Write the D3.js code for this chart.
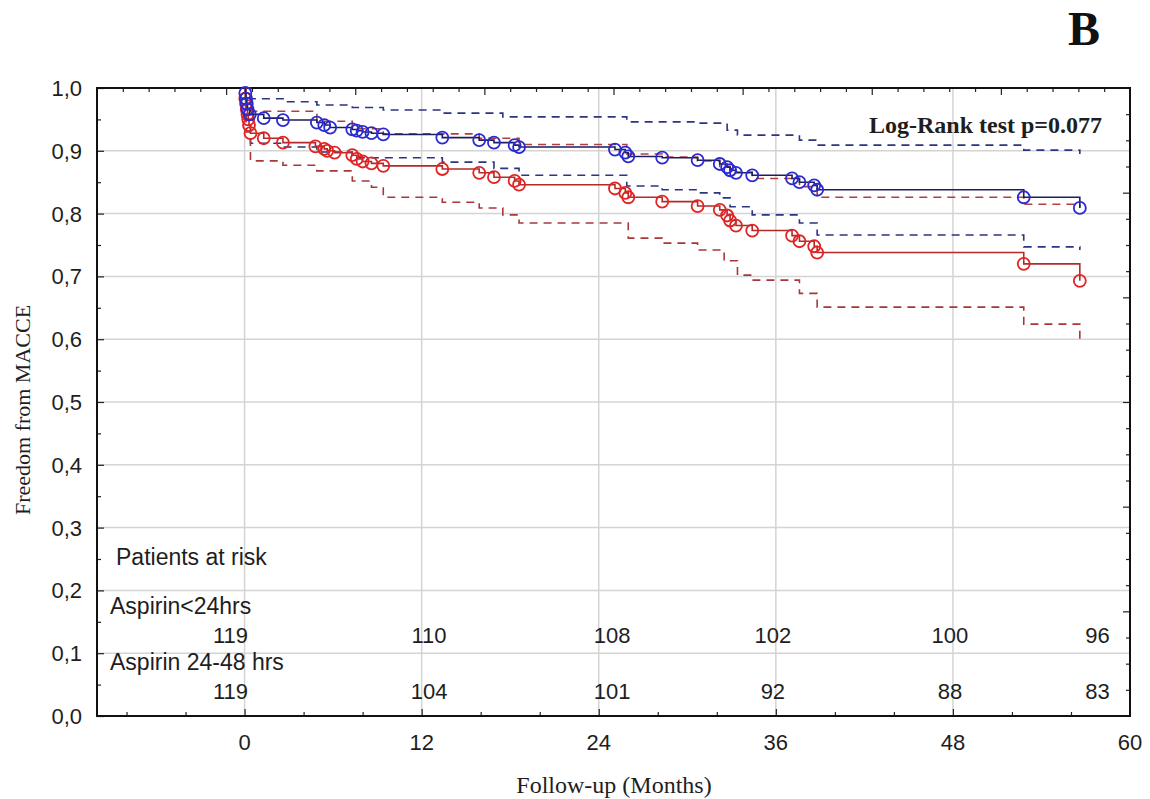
<!DOCTYPE html>
<html><head><meta charset="utf-8">
<script src="https://cdn.jsdelivr.net/npm/d3@7"></script>
<style>body{margin:0;background:#fff}svg{display:block}</style>
</head><body>
<svg id="c" width="1150" height="799"></svg>
<script>
// ---- data ----
const xTicks = [0, 12, 24, 36, 48, 60];
const yTicks = [0, 0.1, 0.2, 0.3, 0.4, 0.5, 0.6, 0.7, 0.8, 0.9, 1.0];

// Aspirin<24hrs (blue) KM events
const blueTimes = [0, 0.05, 0.1, 0.15, 0.2, 0.35, 1.3, 2.6, 4.9, 5.4, 5.8, 7.3, 7.6, 8.0, 8.6, 9.4, 13.4, 15.9, 16.9, 18.3, 18.6, 25.1, 25.8, 26.0, 28.3, 30.7, 32.2, 32.7, 32.9, 33.3, 34.4, 37.1, 37.6, 38.6, 38.8, 52.8, 56.6];
const blueSurv  = [1.0, 0.992, 0.983, 0.975, 0.966, 0.958, 0.952, 0.949, 0.945, 0.941, 0.937, 0.934, 0.932, 0.930, 0.928, 0.926, 0.921, 0.917, 0.913, 0.909, 0.906, 0.902, 0.897, 0.891, 0.889, 0.885, 0.879, 0.874, 0.869, 0.865, 0.861, 0.856, 0.850, 0.845, 0.838, 0.826, 0.809];

// Aspirin 24-48 hrs (red) KM events
const redTimes = [0, 0.05, 0.1, 0.15, 0.2, 0.25, 0.3, 0.4, 1.3, 2.6, 4.8, 5.4, 5.6, 6.1, 7.3, 7.6, 8.0, 8.6, 9.4, 13.4, 15.9, 16.9, 18.3, 18.6, 25.1, 25.8, 26.0, 28.3, 30.7, 32.2, 32.7, 32.9, 33.3, 34.4, 37.1, 37.6, 38.6, 38.8, 52.8, 56.6];
const redSurv  = [1.0, 0.983, 0.975, 0.966, 0.958, 0.950, 0.941, 0.928, 0.920, 0.913, 0.907, 0.903, 0.900, 0.897, 0.893, 0.887, 0.883, 0.880, 0.876, 0.871, 0.865, 0.858, 0.852, 0.846, 0.840, 0.833, 0.826, 0.819, 0.812, 0.806, 0.797, 0.789, 0.781, 0.773, 0.765, 0.756, 0.748, 0.738, 0.720, 0.693];

// Confidence limits (dashed)
const blueUpperTimes = [0, 0.4, 2.8, 4.9, 7.3, 9.4, 13.4, 17.5, 25.9, 30.7, 32.7, 33.4, 37.6, 38.8, 52.8, 56.6];
const blueUpper      = [1.0, 0.983, 0.978, 0.973, 0.969, 0.965, 0.960, 0.954, 0.946, 0.944, 0.933, 0.925, 0.917, 0.909, 0.901, 0.895];
const blueLowerTimes = [0, 0.1, 0.4, 2.6, 4.9, 7.3, 13.4, 16.9, 18.6, 25.9, 28.3, 30.7, 32.2, 32.9, 34.4, 37.6, 38.8, 52.8, 56.6];
const blueLower      = [1.0, 0.95, 0.912, 0.906, 0.898, 0.889, 0.882, 0.872, 0.861, 0.844, 0.838, 0.833, 0.825, 0.811, 0.798, 0.785, 0.766, 0.747, 0.742];
const redUpperTimes  = [0, 0.1, 0.4, 4.9, 7.3, 9.4, 15.9, 18.6, 25.9, 28.3, 30.7, 32.2, 32.9, 34.4, 37.6, 38.8, 52.8, 56.6];
const redUpper       = [1.0, 0.98, 0.963, 0.947, 0.935, 0.927, 0.920, 0.910, 0.895, 0.890, 0.884, 0.875, 0.866, 0.856, 0.843, 0.826, 0.815, 0.810];
const redLowerTimes  = [0, 0.1, 0.4, 2.6, 4.9, 7.3, 8.6, 9.4, 13.4, 15.9, 17.5, 18.6, 26.0, 28.3, 30.7, 32.5, 33.4, 34.4, 37.6, 38.8, 52.8, 56.6];
const redLower       = [1.0, 0.93, 0.884, 0.877, 0.868, 0.852, 0.842, 0.826, 0.818, 0.809, 0.798, 0.785, 0.761, 0.753, 0.742, 0.725, 0.702, 0.694, 0.673, 0.651, 0.624, 0.591];

// Patients at risk
const atRiskTimes = [-0.95, 12.5, 24.9, 35.8, 47.8, 57.8];
const atRiskBlue  = [119, 110, 108, 102, 100, 96];
const atRiskRed   = [119, 104, 101, 92, 88, 83];

// ---- drawing ----
const svg = d3.select('#c');
const L = 97, R = 1130, T = 88, B = 716;
const x = d3.scaleLinear().domain([-10, 60]).range([L, R]);
const y = d3.scaleLinear().domain([0, 1]).range([B, T]);

const sans = "'Liberation Sans', Arial, sans-serif";
const serif = "'Liberation Serif', 'Times New Roman', serif";
const ink = '#1e1e1e';

// grid
const g = svg.append('g');
g.selectAll('.gx').data(xTicks.filter(d => d < 60)).join('line')
  .attr('x1', d => x(d)).attr('x2', d => x(d)).attr('y1', T).attr('y2', B)
  .attr('stroke', '#d4d4d4').attr('stroke-width', 1.5);
g.selectAll('.gy').data(yTicks.filter(d => d > 0 && d < 1)).join('line')
  .attr('x1', L).attr('x2', R).attr('y1', d => y(d)).attr('y2', d => y(d))
  .attr('stroke', '#d4d4d4').attr('stroke-width', 1.5);

// axes (ticks inside)
const xMinor = d3.range(-8, 60, 4).filter(d => !xTicks.includes(d));
const yMinor = d3.range(0.05, 1, 0.1);
svg.append('g').attr('transform', `translate(0,${B})`)
  .call(d3.axisBottom(x).tickValues(xTicks.filter(d => d < 60)).tickSize(-7).tickFormat(''));
svg.append('g').attr('transform', `translate(0,${B})`)
  .call(d3.axisBottom(x).tickValues(xMinor).tickSize(-4).tickFormat(''));
svg.append('g').attr('transform', `translate(${L},0)`)
  .call(d3.axisLeft(y).tickValues(yTicks).tickSize(-7).tickFormat(''));
svg.append('g').attr('transform', `translate(${L},0)`)
  .call(d3.axisLeft(y).tickValues(yMinor).tickSize(-4).tickFormat(''));
// top & right secondary axes (unlabelled)
const xTop = d3.scaleLinear().domain([0, 8]).range([L, R]);
const yRight = d3.scaleLinear().domain([0, 6]).range([B, T]);
svg.append('g').attr('transform', `translate(0,${T})`)
  .call(d3.axisTop(xTop).tickValues(d3.range(1, 8)).tickSize(-7).tickFormat(''));
svg.append('g').attr('transform', `translate(0,${T})`)
  .call(d3.axisTop(xTop).tickValues(d3.range(0.2, 8, 0.2).filter(v => Math.abs(v - Math.round(v)) > 0.01)).tickSize(-4).tickFormat(''));
svg.append('g').attr('transform', `translate(${R},0)`)
  .call(d3.axisRight(yRight).tickValues(d3.range(1, 6)).tickSize(-7).tickFormat(''));
svg.append('g').attr('transform', `translate(${R},0)`)
  .call(d3.axisRight(yRight).tickValues(d3.range(0.25, 6, 0.25).filter(v => Math.abs(v - Math.round(v)) > 0.01)).tickSize(-4).tickFormat(''));
svg.selectAll('.domain').remove();
svg.selectAll('.tick line').attr('stroke', '#222').attr('stroke-width', 1.2);

// frame
svg.append('rect').attr('x', L).attr('y', T).attr('width', R - L).attr('height', B - T)
  .attr('fill', 'none').attr('stroke', '#111').attr('stroke-width', 2);

// tick labels
svg.selectAll('.xl').data(xTicks).join('text')
  .attr('x', d => x(d)).attr('y', 750).attr('text-anchor', 'middle')
  .attr('font-family', sans).attr('font-size', 22).attr('fill', ink)
  .text(d => d);
svg.selectAll('.yl').data(yTicks).join('text')
  .attr('x', 82).attr('y', d => y(d) + 8).attr('text-anchor', 'end')
  .attr('font-family', sans).attr('font-size', 22).attr('fill', ink)
  .text(d => d3.format('.1f')(d).replace('.', ','));

// axis titles
svg.append('text').attr('x', 614).attr('y', 793).attr('text-anchor', 'middle')
  .attr('font-family', serif).attr('font-size', 24).attr('fill', ink).text('Follow-up (Months)');
svg.append('text').attr('transform', 'translate(30,410) rotate(-90)').attr('text-anchor', 'middle')
  .attr('font-family', serif).attr('font-size', 22).attr('fill', ink).text('Freedom from MACCE');

// title letter & log-rank
svg.append('text').attr('x', 1084).attr('y', 45).attr('text-anchor', 'middle')
  .attr('font-family', serif).attr('font-weight', 'bold').attr('font-size', 48).attr('fill', '#111').text('B');
svg.append('text').attr('x', 1102).attr('y', 133).attr('text-anchor', 'end')
  .attr('font-family', serif).attr('font-weight', 'bold').attr('font-size', 24).attr('fill', ink).text('Log-Rank test p=0.077');

// curves
const step = (ts, vs) => d3.line().curve(d3.curveStepAfter).x((d, i) => x(ts[i])).y((d, i) => y(vs[i]))(vs);
const plot = svg.append('g');
function band(ts, vs, color) {
  plot.append('path').attr('d', step(ts, vs)).attr('fill', 'none')
    .attr('stroke', color).attr('stroke-width', 1.6).attr('stroke-dasharray', '8,6');
}
band(blueUpperTimes, blueUpper, '#2b3580');
band(blueLowerTimes, blueLower, '#2b3580');
band(redUpperTimes, redUpper, '#b04040');
band(redLowerTimes, redLower, '#a83838');

function km(ts, vs, lineColor, dotColor) {
  plot.append('path').attr('d', step(ts, vs)).attr('fill', 'none')
    .attr('stroke', lineColor).attr('stroke-width', 1.6);
  plot.append('g').selectAll('circle').data(vs.slice(1)).join('circle')
    .attr('cx', (d, i) => x(ts[i + 1])).attr('cy', d => y(d)).attr('r', 6)
    .attr('fill', 'none').attr('stroke', dotColor).attr('stroke-width', 1.8);
}
km(redTimes, redSurv, '#b32a2a', '#e02424');
km(blueTimes, blueSurv, '#1e1e5e', '#2a2ad0');

// patients at risk
const txt = (xp, yp, s) => svg.append('text').attr('x', xp).attr('y', yp)
  .attr('font-family', sans).attr('font-size', 23).attr('fill', ink).text(s);
txt(116, 565, 'Patients at risk');
txt(110, 614, 'Aspirin<24hrs');
txt(110, 670, 'Aspirin 24-48 hrs');
svg.selectAll('.ar1').data(atRiskBlue).join('text')
  .attr('x', (d, i) => x(atRiskTimes[i])).attr('y', 643).attr('text-anchor', 'middle')
  .attr('font-family', sans).attr('font-size', 22).attr('fill', ink).text(d => d);
svg.selectAll('.ar2').data(atRiskRed).join('text')
  .attr('x', (d, i) => x(atRiskTimes[i])).attr('y', 699).attr('text-anchor', 'middle')
  .attr('font-family', sans).attr('font-size', 22).attr('fill', ink).text(d => d);
</script>
</body></html>
